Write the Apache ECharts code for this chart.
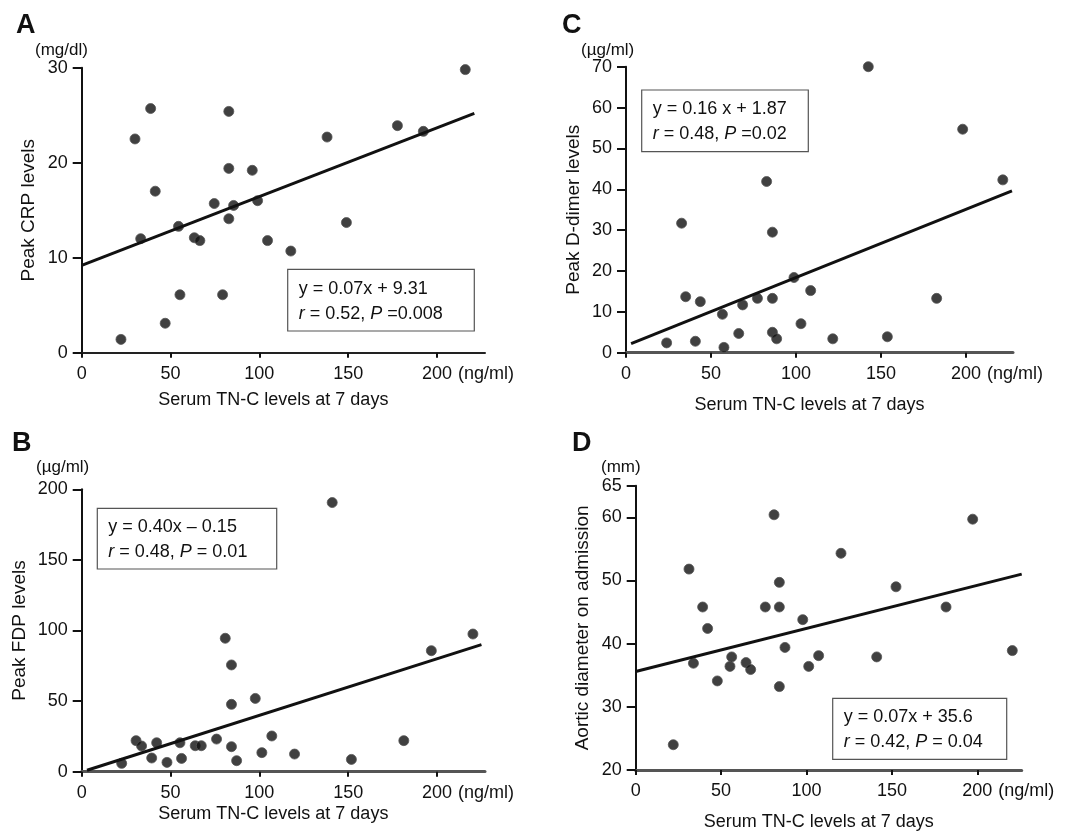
<!DOCTYPE html>
<html>
<head>
<meta charset="utf-8">
<script src="https://cdn.jsdelivr.net/npm/echarts@6/dist/echarts.min.js"></script>
<style>
html,body{margin:0;padding:0;background:#fff;}
#main{width:1087px;height:834px;}
</style>
</head>
<body>
<div id="main"></div>
<script>
// A: CRP
var tnA = [22.1,30,33.2,38.8,41.4,47,54.5,55.3,63.4,66.5,74.6,79.3,82.8,82.8,82.8,85.5,96,99,104.6,117.7,138.1,149,177.7,192.3,215.9];
var crpA = [1.4,22.5,12.0,25.7,17.0,3.1,13.3,6.1,12.1,11.8,15.7,6.1,25.4,19.4,14.1,15.5,19.2,16.0,11.8,10.7,22.7,13.7,23.9,23.3,29.8];
var fitA = [[0,9.2],[221,25.2]];
// B: FDP
var tnB = [22.5,30.6,33.7,39.4,42.2,48,55.3,56.2,63.9,67.3,75.9,80.8,84.3,84.3,84.3,87.2,97.7,101.4,107,119.8,141,151.8,181.3,196.8,220.2];
var fdpB = [5.9,22,18.2,9.7,20.5,6.6,20.5,9.4,18.4,18.4,23.1,94.5,75.6,47.7,17.7,7.8,51.9,13.5,25.3,12.5,190.6,8.7,22,85.7,97.5];
var fitB = [[3,1],[225,90]];
// C: D-dimer
var tnC = [23.9,32.7,35.1,40.8,43.7,56.7,57.6,66.3,68.6,77.3,82.7,86.1,86.1,86.1,88.6,98.8,102.9,108.6,121.6,142.5,153.7,182.7,198,221.6];
var ddC = [2.4,31.7,13.7,2.8,12.5,9.4,1.3,4.7,11.7,13.3,41.9,29.5,13.3,5.0,3.4,18.4,7.1,15.2,3.4,70,3.9,13.3,54.7,42.3];
var fitC = [[3,2.2],[227,39.6]];
// D: aortic diameter
var tnD = [22,31.2,33.8,39.2,42.1,47.8,55.2,56.2,64.6,67.3,75.9,81,84.1,84.1,84.1,87.4,97.8,101.3,107.1,120.2,141.1,152.4,181.7,197.3,220.5];
var aoD = [24,51.8,36.9,45.8,42.4,34.1,36.4,37.9,37,35.9,45.8,60.4,49.7,45.8,33.2,39.4,43.8,36.4,38.1,54.3,37.9,49,45.8,59.7,38.9];
var fitD = [[0,35.6],[226,51]];

var xTicks = [0,50,100,150,200];
var yTicksA = [0,10,20,30];
var yTicksB = [0,50,100,150,200];
var yTicksC = [0,10,20,30,40,50,60,70];
var yTicksD = [20,30,40,50,60,65];

var eqA = ['y = 0.07x + 9.31', '{i|r} = 0.52, {i|P} =0.008'];
var eqB = ['y = 0.40x \u2013 0.15', '{i|r} = 0.48, {i|P} = 0.01'];
var eqC = ['y = 0.16 x + 1.87', '{i|r} = 0.48, {i|P} =0.02'];
var eqD = ['y = 0.07x + 35.6', '{i|r} = 0.42, {i|P} = 0.04'];

var ff = '"Liberation Sans", Arial, Helvetica, sans-serif';
var ink = '#111';

function zip(xs, ys){
	var out = [];
	for(var i=0;i<xs.length;i++){ out.push([xs[i], ys[i]]); }
	return out;
}

function xAxisOf(idx, max, gap, lineColor, lineWidth){
	return {
		gridIndex: idx, type: 'value', min: 0, max: max, interval: 50,
		axisLine: {show: true, onZero: false, lineStyle: {color: lineColor, width: lineWidth}},
		axisTick: {customValues: xTicks, length: 5, lineStyle: {color: ink, width: 2}},
		axisLabel: {
			customValues: xTicks, margin: 12, color: ink, fontSize: 18, fontFamily: ff,
			formatter: function(v){
				return v === 200 ? '{p|}{n|200}{u|(ng/ml)}' : '{n|' + v + '}';
			},
			rich: {
				n: {fontSize: 18, fontFamily: ff, color: ink},
				p: {width: 64},
				u: {width: 60, padding: [0,0,0,4], fontSize: 18, fontFamily: ff, color: ink}
			}
		},
		splitLine: {show: false},
		name: 'Serum TN-C levels at 7 days', nameLocation: 'middle', nameGap: gap,
		nameTextStyle: {fontSize: 18, fontFamily: ff, color: ink, padding: [0,20,0,0]}
	};
}

function yAxisOf(idx, min, max, interval, ticks, title, gap){
	return {
		gridIndex: idx, type: 'value', min: min, max: max, interval: interval,
		axisLine: {show: true, lineStyle: {color: ink, width: 2}},
		axisTick: {customValues: ticks, length: 9, lineStyle: {color: ink, width: 2}},
		axisLabel: {customValues: ticks, margin: 14, color: ink, fontSize: 18, fontFamily: ff},
		splitLine: {show: false},
		name: title, nameLocation: 'middle', nameGap: gap, nameRotate: 90,
		nameTextStyle: {fontSize: 19, fontFamily: ff, color: ink}
	};
}

function dots(idx, data){
	return {
		type: 'scatter', xAxisIndex: idx, yAxisIndex: idx, data: data,
		symbolSize: 10, clip: false, silent: true,
		itemStyle: {color: '#101010', borderColor: '#555', borderWidth: 1}
	};
}

function fit(idx, data){
	return {
		type: 'line', xAxisIndex: idx, yAxisIndex: idx, data: data,
		symbol: 'none', silent: true, lineStyle: {color: ink, width: 3}
	};
}

function letter(t, x, y){
	return {type: 'text', style: {text: t, x: x, y: y, fontSize: 27, fontWeight: 'bold', fontFamily: ff, fill: ink}};
}
function unit(t, x, y){
	return {type: 'text', style: {text: t, x: x, y: y, fontSize: 17, fontFamily: ff, fill: ink, verticalAlign: 'middle'}};
}
function box(lines, x, y, w, h){
	return {
		type: 'group',
		children: [
			{type: 'rect', shape: {x: x, y: y, width: w, height: h}, style: {fill: '#fff', stroke: '#555', lineWidth: 1.2}},
			{type: 'text', style: {
				text: lines.join('\n'), x: x + 11, y: y + h / 2 + 1, verticalAlign: 'middle',
				fontSize: 18, fontFamily: ff, fill: ink, lineHeight: 25,
				rich: {i: {fontStyle: 'italic', fontSize: 18, fontFamily: ff, fill: ink, lineHeight: 25}}
			}}
		]
	};
}

var myChart = echarts.init(document.getElementById('main'), null, {renderer: 'canvas'});
var option = {
	backgroundColor: '#fff',
	animation: false,
	grid: [
		{left: 81.7, top: 67.7, width: 403.3, height: 285},
		{left: 81.7, top: 489.3, width: 403.3, height: 282.4},
		{left: 626, top: 66.7, width: 387, height: 286},
		{left: 635.7, top: 485.7, width: 386, height: 284.3}
	],
	xAxis: [
		xAxisOf(0, 227, 38, '#222', 2),
		xAxisOf(1, 227, 33, '#555', 3),
		xAxisOf(2, 227.6, 43, '#555', 3),
		xAxisOf(3, 226, 43, '#555', 3)
	],
	yAxis: [
		yAxisOf(0, 0, 30, 10, yTicksA, 'Peak CRP levels', 43),
		yAxisOf(1, 0, 200, 50, yTicksB, 'Peak FDP levels', 52),
		yAxisOf(2, 0, 70, 10, yTicksC, 'Peak D-dimer levels', 43),
		yAxisOf(3, 20, 65, 10, yTicksD, 'Aortic diameter on admission', 43)
	],
	series: [
		fit(0, fitA), dots(0, zip(tnA, crpA)),
		fit(1, fitB), dots(1, zip(tnB, fdpB)),
		fit(2, fitC), dots(2, zip(tnC, ddC)),
		fit(3, fitD), dots(3, zip(tnD, aoD))
	],
	graphic: [
		letter('A', 16, 12), letter('B', 12, 430), letter('C', 562, 12), letter('D', 572, 430),
		unit('(mg/dl)', 35, 50), unit('(\u00b5g/ml)', 36, 467),
		unit('(\u00b5g/ml)', 581, 50), unit('(mm)', 601, 467),
		box(eqA, 287.7, 269.3, 186.6, 61.7),
		box(eqB, 97.3, 508.3, 179.4, 60.7),
		box(eqC, 641.7, 90, 166.6, 61.7),
		box(eqD, 832.7, 698.3, 174, 61)
	]
};
myChart.setOption(option);
window.addEventListener('resize', function(){ myChart.resize(); });
</script>
</body>
</html>
